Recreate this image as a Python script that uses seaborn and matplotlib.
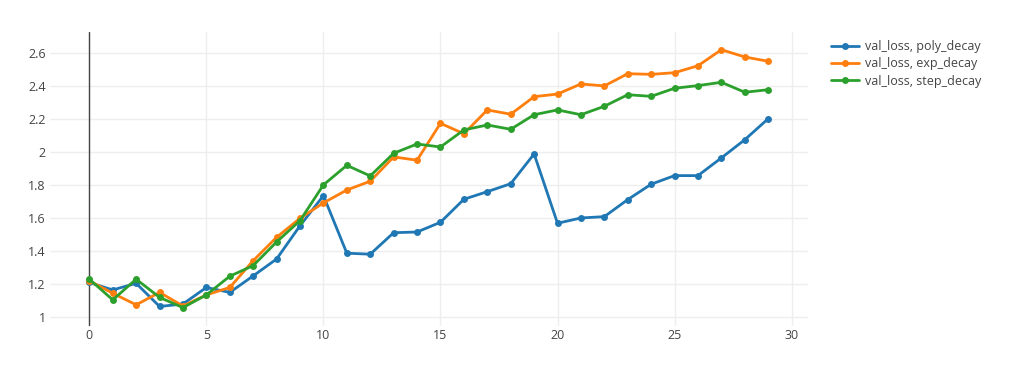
import pandas as pd
import seaborn as sns
import matplotlib.pyplot as plt

# --- data ---
epochs = list(range(30))
poly_decay = [1.21, 1.165, 1.205, 1.065, 1.08, 1.18, 1.15, 1.25, 1.352, 1.553,
              1.735, 1.387, 1.381, 1.511, 1.515, 1.574, 1.713, 1.759, 1.807, 1.987,
              1.568, 1.60, 1.608, 1.711, 1.804, 1.856, 1.856, 1.963, 2.073, 2.20]
exp_decay = [1.22, 1.145, 1.075, 1.15, 1.068, 1.135, 1.18, 1.342, 1.483, 1.598,
             1.691, 1.769, 1.822, 1.969, 1.949, 2.172, 2.109, 2.253, 2.227, 2.333,
             2.349, 2.41, 2.398, 2.472, 2.468, 2.478, 2.52, 2.617, 2.573, 2.547]
step_decay = [1.23, 1.105, 1.23, 1.12, 1.058, 1.135, 1.248, 1.312, 1.455, 1.584,
              1.80, 1.918, 1.854, 1.991, 2.047, 2.029, 2.132, 2.162, 2.136, 2.224,
              2.253, 2.224, 2.275, 2.345, 2.335, 2.384, 2.40, 2.42, 2.36, 2.375]
series_names = ['val_loss, poly_decay', 'val_loss, exp_decay', 'val_loss, step_decay']
colors = ['#1f77b4', '#ff7f0e', '#2ca02c']

df = pd.concat([
    pd.DataFrame({'epoch': epochs, 'loss': vals, 'series': name})
    for name, vals in zip(series_names, [poly_decay, exp_decay, step_decay])
])

sns.set_theme(style="white")
plt.rcParams['font.family'] = ['Open Sans', 'DejaVu Sans']

fig = plt.figure(figsize=(10.24, 3.84), dpi=100)
ax = fig.add_axes([50 / 1024, 1 - 326 / 384, 758 / 1024, 294 / 384])

sns.lineplot(data=df, x='epoch', y='loss', hue='series', palette=colors,
             marker='o', markersize=5, markeredgewidth=0, linewidth=2,
             dashes=False, ax=ax, zorder=3)

ax.set_xlim(-1.68, 30.7)
ax.set_ylim(0.947, 2.724)
ax.set_xticks([0, 5, 10, 15, 20, 25, 30])
ax.set_yticks([1, 1.2, 1.4, 1.6, 1.8, 2, 2.2, 2.4, 2.6])
ax.set_yticklabels(['1', '1.2', '1.4', '1.6', '1.8', '2', '2.2', '2.4', '2.6'])
ax.grid(True, color='#eeeeee', linewidth=1, zorder=0)
ax.axvline(0, color='#444444', linewidth=1, zorder=2)
for s in ax.spines.values():
    s.set_visible(False)
ax.tick_params(axis='both', length=0, labelsize=9, colors='#444444')
ax.tick_params(axis='x', pad=2.5)
ax.tick_params(axis='y', pad=3)
ax.set_xlabel('')
ax.set_ylabel('')

leg = ax.legend(loc='upper left', bbox_to_anchor=(826 / 1024, 1 - 35 / 384),
                bbox_transform=fig.transFigure, frameon=False, fontsize=9,
                handlelength=2.2, handletextpad=0.5, labelspacing=0.35,
                borderaxespad=0)
for t in leg.get_texts():
    t.set_color('#444444')

fig.savefig('out.png', dpi=100)
